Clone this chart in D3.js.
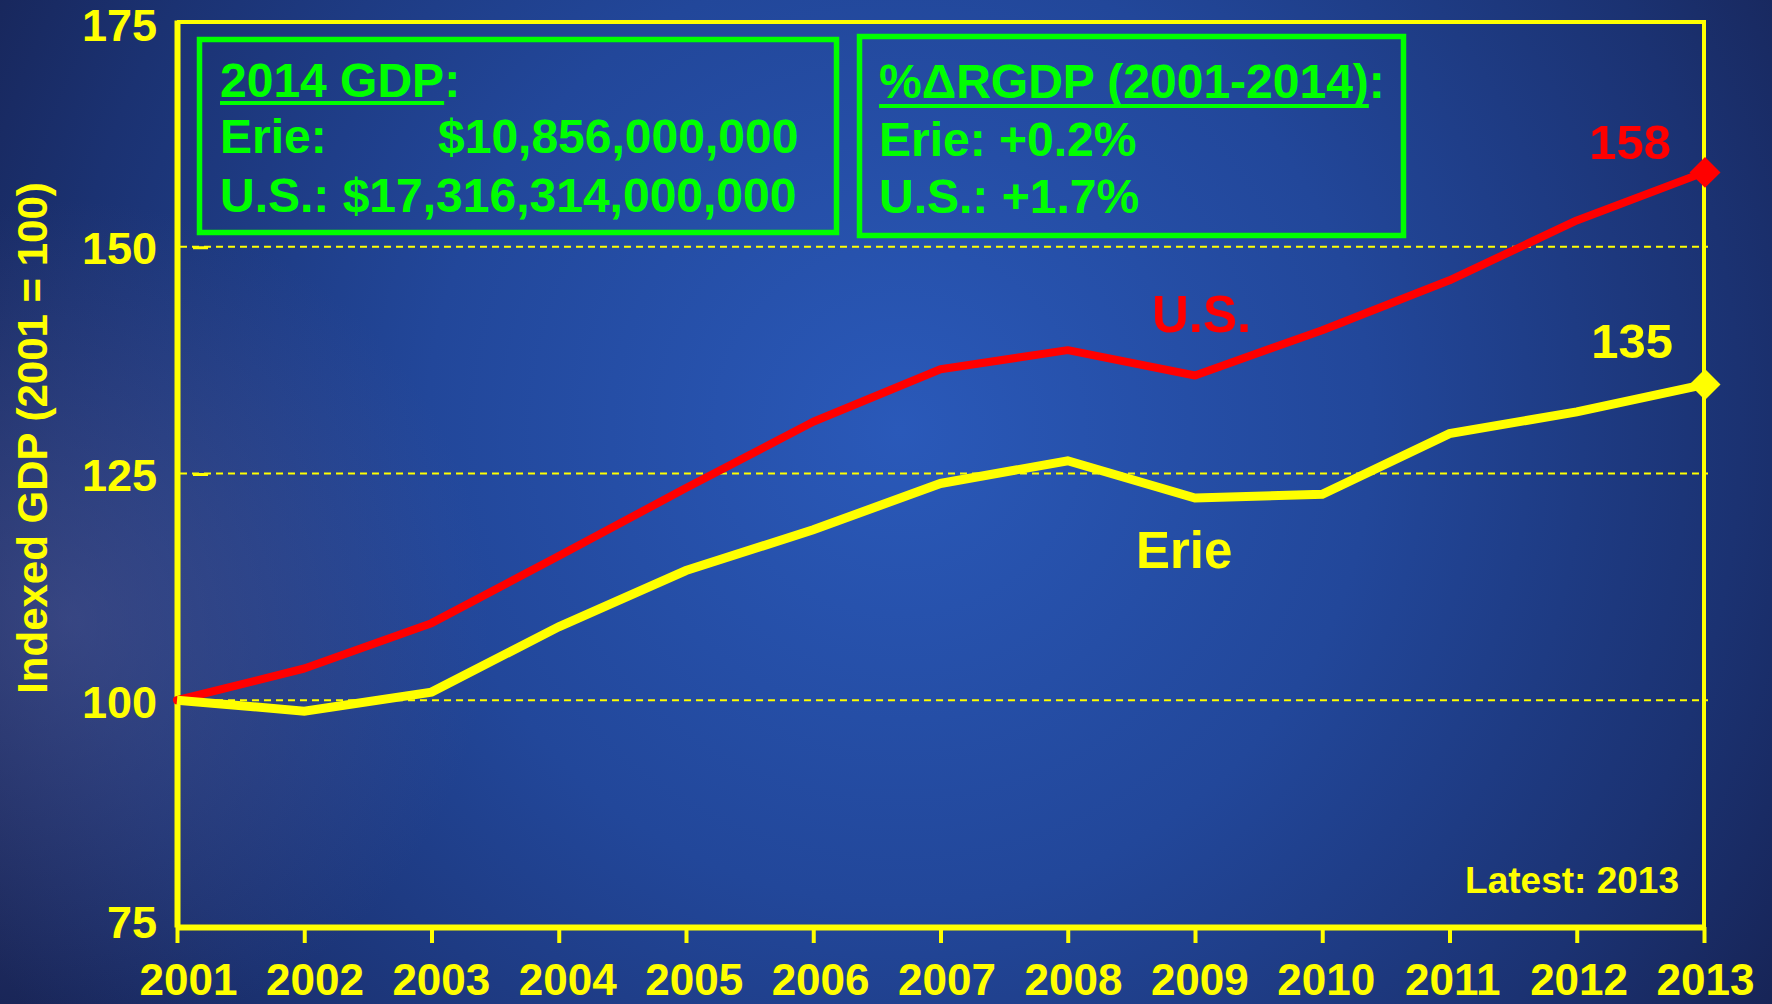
<!DOCTYPE html>
<html>
<head>
<meta charset="utf-8">
<script src="https://cdn.jsdelivr.net/npm/d3@7"></script>
<style>
  html, body { margin: 0; padding: 0; background: #1b2b62; }
  svg { display: block; }
  text { font-family: "Liberation Sans", Arial, sans-serif; font-weight: bold; }
</style>
</head>
<body>
<svg id="chart" width="1772" height="1004"></svg>
<script>
// ---- data ----
const years = [2001, 2002, 2003, 2004, 2005, 2006, 2007, 2008, 2009, 2010, 2011, 2012, 2013];
const usValues   = [100, 103.5, 108.5, 115.9, 123.4, 130.7, 136.5, 138.6, 135.8, 140.8, 146.3, 152.9, 158.2];
const erieValues = [100, 98.8, 100.9, 108.1, 114.3, 118.8, 123.9, 126.4, 122.3, 122.7, 129.4, 131.8, 134.8];
const yTicks = [75, 100, 125, 150, 175];
const gridValues = [100, 125, 150];
const innerTickValues = [125, 150];
const endLabels = ["158", "135"];
const seriesNames = ["U.S.", "Erie"];
const yTitle = "Indexed GDP (2001 = 100)";
const noteText = "Latest: 2013";
const box1Head = "2014 GDP";
const box1Lines = [["Erie:", "$10,856,000,000"], ["U.S.: $17,316,314,000,000", ""]];
const box2Head = "%\u0394RGDP (2001-2014)";
const box2Lines = ["Erie: +0.2%", "U.S.: +1.7%"];

const YELLOW = "#ffff00", RED = "#ff0000", GREEN = "#00ff00";

const svg = d3.select("#chart");
const W = 1772, H = 1004;

// ---- background ----
const defs = svg.append("defs");
const rg = defs.append("radialGradient").attr("id", "bg")
  .attr("gradientUnits", "userSpaceOnUse").attr("cx", 900).attr("cy", 430).attr("r", 1050);
rg.append("stop").attr("offset", "0").attr("stop-color", "#2a59b9");
rg.append("stop").attr("offset", "0.45").attr("stop-color", "#22479a");
rg.append("stop").attr("offset", "0.8").attr("stop-color", "#1b3272");
rg.append("stop").attr("offset", "1").attr("stop-color", "#172456");
const rg2 = defs.append("radialGradient").attr("id", "glow")
  .attr("gradientUnits", "userSpaceOnUse").attr("cx", 70).attr("cy", 620).attr("r", 420);
rg2.append("stop").attr("offset", "0").attr("stop-color", "#5a5f98").attr("stop-opacity", 0.45);
rg2.append("stop").attr("offset", "1").attr("stop-color", "#5a5f98").attr("stop-opacity", 0);
svg.append("rect").attr("width", W).attr("height", H).attr("fill", "url(#bg)");
svg.append("rect").attr("width", W).attr("height", H).attr("fill", "url(#glow)");

// ---- scales ----
const x = d3.scaleLinear().domain([2001, 2013]).range([177, 1704]);
const xLabel = d3.scaleLinear().domain([2001, 2013]).range([188, 1705]);
const y = d3.scaleLinear().domain([75, 175]).range([927, 20]);

// ---- grid ----
svg.append("g").selectAll("line").data(gridValues).join("line")
  .attr("x1", x(2001) + 3).attr("x2", x(2013) + 4)
  .attr("y1", d => y(d)).attr("y2", d => y(d))
  .attr("stroke", YELLOW).attr("stroke-width", 2).attr("stroke-dasharray", "7,5");

svg.append("g").selectAll("line").data(innerTickValues).join("line")
  .attr("x1", 193).attr("x2", 208)
  .attr("y1", d => y(d) + 1).attr("y2", d => y(d) + 1)
  .attr("stroke", YELLOW).attr("stroke-width", 3);

// ---- frame top/right ----
svg.append("line").attr("x1", x(2001)).attr("x2", x(2013) + 2)
  .attr("y1", y(175) + 2).attr("y2", y(175) + 2)
  .attr("stroke", YELLOW).attr("stroke-width", 4);
svg.append("line").attr("x1", x(2013)).attr("x2", x(2013))
  .attr("y1", y(175)).attr("y2", y(75))
  .attr("stroke", YELLOW).attr("stroke-width", 4);

// ---- axes ----
const xAxis = svg.append("g").attr("transform", `translate(0,${y(75)})`)
  .call(d3.axisBottom(x).tickValues(years).tickFormat(d3.format("d")).tickSize(16).tickSizeOuter(0));
xAxis.select(".domain").attr("stroke", YELLOW).attr("stroke-width", 6);
xAxis.selectAll(".tick line").attr("stroke", YELLOW).attr("stroke-width", 4);
xAxis.selectAll(".tick text").attr("fill", YELLOW).attr("font-size", 44)
  .attr("font-family", "Liberation Sans, Arial, sans-serif").attr("font-weight", "bold")
  .attr("x", d => xLabel(d) - x(d))
  .attr("y", 68).attr("dy", 0);

const yAxis = svg.append("g").attr("transform", `translate(${x(2001)},0)`)
  .call(d3.axisLeft(y).tickValues(yTicks).tickFormat(d3.format("d")).tickSize(0).tickSizeOuter(0));
yAxis.select(".domain").attr("stroke", YELLOW).attr("stroke-width", 6);
yAxis.selectAll(".tick text").attr("fill", YELLOW).attr("font-size", 45)
  .attr("font-family", "Liberation Sans, Arial, sans-serif").attr("font-weight", "bold")
  .attr("x", -20).attr("dy", d => d === 75 ? 10 : (d === 175 ? 20 : 17));

// ---- lines ----
const line = d3.line().x((d, i) => x(years[i])).y(d => y(d));
svg.append("path").datum(usValues).attr("d", line)
  .attr("fill", "none").attr("stroke", RED).attr("stroke-width", 8)
  .attr("stroke-linejoin", "round").attr("stroke-linecap", "round");
svg.append("path").datum(erieValues).attr("d", line)
  .attr("fill", "none").attr("stroke", YELLOW).attr("stroke-width", 9)
  .attr("stroke-linejoin", "miter").attr("stroke-linecap", "butt");

// end diamonds
const diamond = d3.symbol().type(d3.symbolSquare).size(480);
const last = years.length - 1;
[[usValues, RED], [erieValues, YELLOW]].forEach(([vals, col]) => {
  svg.append("path").attr("d", diamond())
    .attr("transform", `translate(${x(years[last]) + 1},${y(vals[last])}) rotate(45)`)
    .attr("fill", col);
});

// end labels
svg.append("text").attr("x", 1671).attr("y", 159).attr("text-anchor", "end")
  .attr("fill", RED).attr("font-size", 49).text(endLabels[0]);
svg.append("text").attr("x", 1673).attr("y", 358).attr("text-anchor", "end")
  .attr("fill", YELLOW).attr("font-size", 49).text(endLabels[1]);

// series labels
svg.append("text").attr("x", 1152).attr("y", 332)
  .attr("fill", RED).attr("font-size", 51).text(seriesNames[0]);
svg.append("text").attr("x", 1136).attr("y", 568)
  .attr("fill", YELLOW).attr("font-size", 51).text(seriesNames[1]);

// note
svg.append("text").attr("x", 1679).attr("y", 893).attr("text-anchor", "end")
  .attr("fill", YELLOW).attr("font-size", 37).text(noteText);

// y title
svg.append("text").attr("transform", "translate(47,438) rotate(-90)")
  .attr("text-anchor", "middle").attr("fill", YELLOW).attr("font-size", 42).text(yTitle);

// ---- green boxes ----
const FS = 48;
function heading(g, tx, ty, txt, underlineOffset) {
  const t = g.append("text").attr("x", tx).attr("y", ty).attr("fill", GREEN).attr("font-size", FS).text(txt);
  const w = t.node().getComputedTextLength();
  g.append("line").attr("x1", tx).attr("x2", tx + w)
    .attr("y1", ty + underlineOffset).attr("y2", ty + underlineOffset)
    .attr("stroke", GREEN).attr("stroke-width", 4);
  g.append("text").attr("x", tx + w).attr("y", ty).attr("fill", GREEN).attr("font-size", FS).text(":");
}

const b1 = svg.append("g");
b1.append("rect").attr("x", 199.5).attr("y", 39.5).attr("width", 637).attr("height", 193)
  .attr("fill", "none").attr("stroke", GREEN).attr("stroke-width", 5.5);
heading(b1, 220, 97, box1Head, 6);
b1.append("text").attr("x", 220).attr("y", 153).attr("fill", GREEN).attr("font-size", FS).text(box1Lines[0][0]);
b1.append("text").attr("x", 438).attr("y", 153).attr("fill", GREEN).attr("font-size", FS).text(box1Lines[0][1]);
b1.append("text").attr("x", 220).attr("y", 212).attr("fill", GREEN).attr("font-size", FS).text(box1Lines[1][0]);

const b2 = svg.append("g");
b2.append("rect").attr("x", 859.5).attr("y", 36.5).attr("width", 544).attr("height", 199)
  .attr("fill", "none").attr("stroke", GREEN).attr("stroke-width", 5.5);
heading(b2, 879, 98, box2Head, 8);
b2.append("text").attr("x", 879).attr("y", 156).attr("fill", GREEN).attr("font-size", FS).text(box2Lines[0]);
b2.append("text").attr("x", 879).attr("y", 213).attr("fill", GREEN).attr("font-size", FS).text(box2Lines[1]);
</script>
</body>
</html>
